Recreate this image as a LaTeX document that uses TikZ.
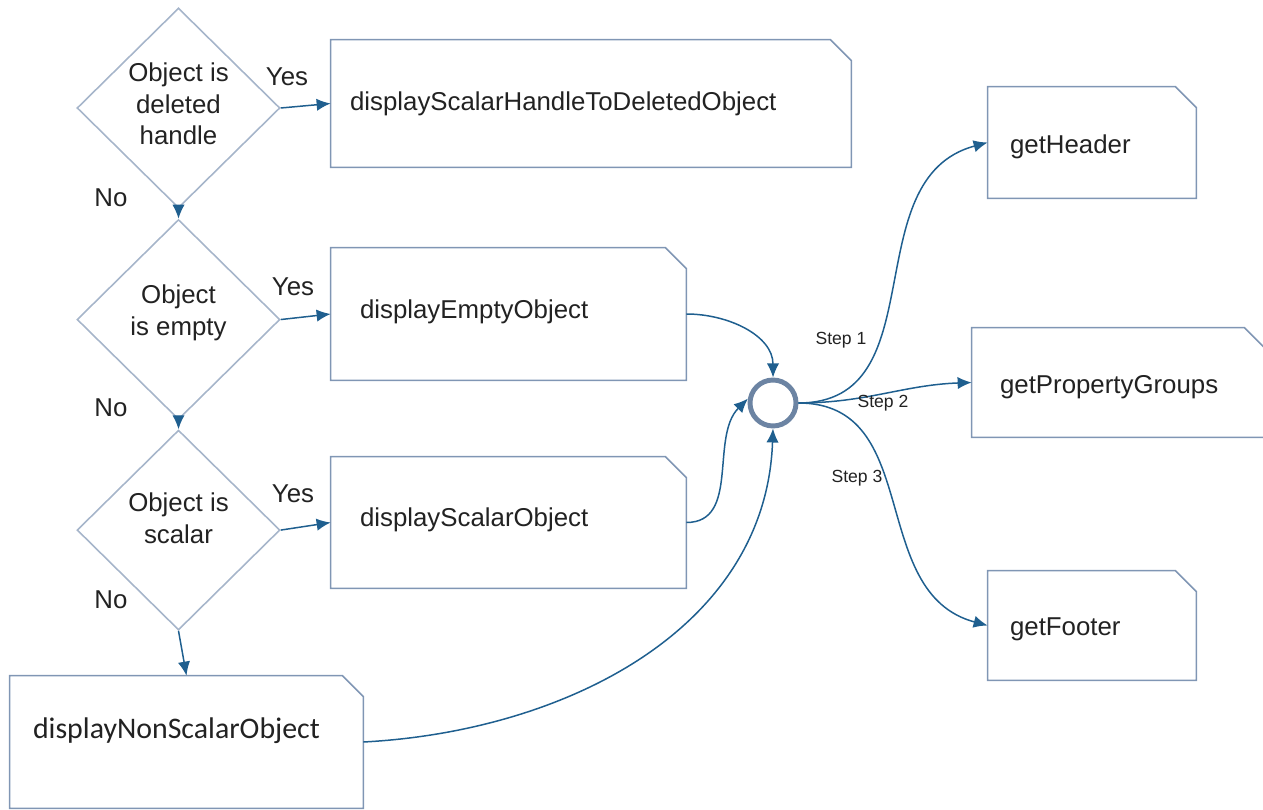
\documentclass[tikz,border=0pt]{standalone}
\usepackage{fontspec}
\setmainfont{Liberation Sans}
\newfontfamily\calibrifont{Carlito}
\usepackage{tikz}
\usetikzlibrary{shapes,arrows,arrows.meta}
\usetikzlibrary{calc,positioning}
\definecolor{linkblue}{RGB}{31,95,143}
\definecolor{diamondgray}{RGB}{166,181,202}
\definecolor{boxgray}{RGB}{128,150,180}
\definecolor{ringgray}{RGB}{108,132,163}
\definecolor{inkgray}{RGB}{34,34,34}
\tikzset{
    decision/.style = {draw=diamondgray, diamond, line width=0.9pt, inner sep=0pt, minimum width=4.06cm, minimum height=4cm, align=center, text=inkgray, font=\fontsize{14.7}{18}\selectfont},
    block/.style = {rectangle, inner xsep=0.45cm, inner ysep=0pt, align=left, text=inkgray, font=\fontsize{14.7}{18}\selectfont},
    blockline/.style = {draw=boxgray, line width=0.9pt},
    junction/.style = {draw=ringgray, circle, line width=2.8pt, minimum size=0.92cm, inner sep=0pt},
    arrow/.style = {draw=linkblue, line width=0.85pt, ->},
    answer/.style = {text=inkgray, font=\fontsize{14.7}{18}\selectfont},
    steplabel/.style = {text=inkgray, font=\fontsize{10}{12}\selectfont},
}

\begin{document}
\begin{tikzpicture}[x=0.02cm, y=-0.02cm, node distance=0.2cm, >={Latex[length=8pt,width=7pt]}]
    \useasboundingbox (0,0) rectangle (1263,810);

    \node [decision, text depth=0.16cm] (isdeleted) at (178.5,108) {Object is\\deleted\\handle};
    \node [decision, text depth=0.38cm, below=of isdeleted] (isempty) {Object\\is empty};
    \node [decision, text depth=0.48cm, below=0.18cm of isempty] (isscalar) {Object is\\scalar};

    \node [block, inner xsep=0.38cm, text width=9.64cm, minimum height=2.54cm] (deletedobj) at (591,103.5) {displayScalarHandleToDeletedObject};
    \node [block, inner xsep=0.58cm, text width=5.94cm, minimum height=2.64cm, text depth=0.2cm] (emptyobj) at (508.5,314) {displayEmptyObject};
    \node [block, inner xsep=0.58cm, text width=5.94cm, minimum height=2.62cm, text depth=0.2cm] (scalarobj) at (508.5,522.5) {displayScalarObject};
    \node [block, inner xsep=0.46cm, text width=6.14cm, minimum height=2.64cm, text depth=0.55cm, font=\calibrifont\fontsize{17}{20}\selectfont] (nonscalarobj) at (186.5,742) {displayNonScalarObject};

    \node [junction] (joint) at (773,403) {};

    \node [block, inner xsep=0.44cm, text width=3.28cm, minimum height=2.22cm, text height=0.56cm] (header) at (1092,142.5) {getHeader};
    \node [block, inner xsep=0.56cm, text width=4.74cm, minimum height=2.18cm, text height=0.56cm] (propgroups) at (1118.5,382.5) {getPropertyGroups};
    \node [block, inner xsep=0.44cm, text width=3.28cm, minimum height=2.18cm, text height=0.52cm] (footer) at (1092,625.5) {getFooter};

    \foreach \b in {deletedobj,emptyobj,scalarobj,nonscalarobj,header,propgroups,footer}
        \draw [blockline] (\b.north west) -- ([xshift=-0.42cm]\b.north east) -- ([yshift=-0.42cm]\b.north east) -- (\b.south east) -- (\b.south west) -- cycle;

    \draw [arrow] (isdeleted.east) -- (deletedobj.west);
    \draw [arrow] (isempty.east) -- (emptyobj.west);
    \draw [arrow] (isscalar.east) -- (scalarobj.west);
    \draw [arrow] (isdeleted.south) -- (isempty.north);
    \draw [arrow] (isempty.south) -- (isscalar.north);
    \draw [arrow] (isscalar.south) -- (nonscalarobj.north);

    \node [answer] (yes1) at (287,77) {Yes};
    \node [answer] (yes2) at (293,287) {Yes};
    \node [answer] (yes3) at (293,494) {Yes};
    \node [answer] (no1) at (111,198) {No};
    \node [answer] (no2) at (111,408) {No};
    \node [answer] (no3) at (111,600) {No};

    \draw [arrow] (emptyobj.east) to [out=0, in=90] (joint.north);
    \draw [arrow] (scalarobj.east) to [out=0, in=225] (joint.170);
    \draw [arrow] (nonscalarobj.east) to [out=3, in=268] (joint.south);

    \draw [arrow] (joint.east) to [out=0, in=195, looseness=1.1] (header.west);
    \draw [arrow] (joint.east) to [out=0, in=182] (propgroups.west);
    \draw [arrow] (joint.east) to [out=0, in=165, looseness=1.1] (footer.west);

    \node [steplabel] (step1) at (841,340) {Step 1};
    \node [steplabel] (step2) at (883,403) {Step 2};
    \node [steplabel] (step3) at (857,478) {Step 3};
\end{tikzpicture}
\end{document}
